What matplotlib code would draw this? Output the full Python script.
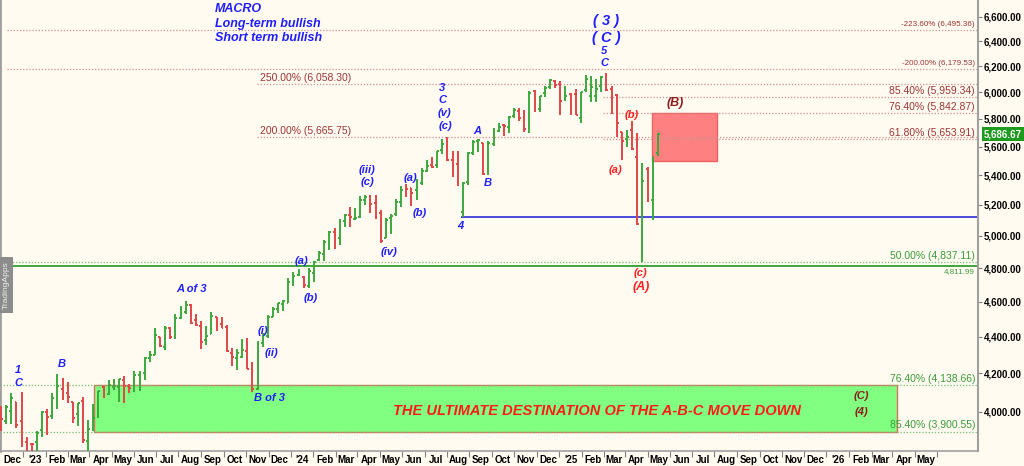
import datetime as dt
import matplotlib
matplotlib.use("Agg")
import matplotlib.pyplot as plt
import matplotlib.dates as mdates
import matplotlib.ticker as mticker
from matplotlib.collections import LineCollection
from matplotlib.patches import Rectangle
import pandas as pd

plt.rcParams['font.family'] = ['Liberation Sans', 'DejaVu Sans']

# ---------------- data: S&P 500 weekly OHLC (week ending Friday) ----------------
first_week_end = '2022-11-18'
opens = [3977, 3956, 4005, 4053, 3954, 3853, 3843,
         3853, 3910, 3999, 3979, 4070, 4120, 4097, 4052, 3992, 4055, 3855, 3917, 3986,
         4130, 4091, 4131, 4131, 4167, 4136, 4126, 4190, 4204, 4283, 4300, 4397, 4344,
         4450, 4404, 4505, 4543, 4580, 4492, 4458, 4380, 4416, 4510, 4472, 4453, 4311,
         4284, 4290, 4320, 4217, 4120, 4365, 4407, 4511, 4555, 4587, 4593, 4725, 4758,
         4745, 4690, 4772, 4849, 4888, 4957, 5027, 4989, 5094, 5133, 5111, 5123, 5234,
         5258, 5211, 5150, 4988, 5115, 5142, 5221, 5311, 5316, 5297, 5350, 5431, 5468,
         5471, 5572, 5615, 5505, 5476, 5151, 5353, 5557, 5637, 5623, 5442, 5615, 5712,
         5757, 5737, 5820, 5857, 5817, 5724, 6008, 5875, 5992, 6041, 6083, 6063, 5945,
         5982, 5983, 5806, 6015, 5969, 5970, 6046, 6121, 6026, 5981, 5705, 5655, 5718,
         5527, 4953, 5441, 5232, 5553]
highs = [4028, 4034, 4100, 4053, 4101, 3876, 3846,
         3906, 4003, 4015, 4095, 4195, 4176, 4156, 4052, 4048, 4079, 3962, 4039, 4110,
         4133, 4163, 4170, 4171, 4187, 4143, 4212, 4212, 4291, 4322, 4448, 4401, 4458,
         4456, 4527, 4578, 4607, 4584, 4528, 4491, 4458, 4541, 4514, 4511, 4466, 4339,
         4333, 4385, 4393, 4259, 4374, 4415, 4521, 4568, 4595, 4609, 4739, 4778, 4793,
         4755, 4802, 4842, 4907, 4975, 5030, 5048, 5111, 5140, 5189, 5179, 5261, 5264,
         5263, 5263, 5168, 5114, 5139, 5239, 5325, 5341, 5316, 5375, 5447, 5505, 5524,
         5570, 5656, 5670, 5566, 5566, 5357, 5563, 5643, 5651, 5623, 5636, 5734, 5767,
         5765, 5822, 5878, 5878, 5863, 6012, 6018, 5973, 6044, 6100, 6089, 6085, 6050,
         5991, 6022, 6000, 6128, 6120, 6101, 6127, 6147, 6044, 5987, 5705, 5715, 5787,
         5695, 5481, 5459, 5528, 5700]
lows = [3906, 3938, 3938, 3919, 3828, 3765, 3783,
        3794, 3877, 3885, 3966, 4015, 4060, 4048, 3943, 3928, 3847, 3808, 3906, 3970,
        4069, 4087, 4114, 4049, 4048, 4099, 4103, 4109, 4166, 4260, 4300, 4341, 4329,
        4385, 4389, 4503, 4528, 4474, 4458, 4335, 4357, 4416, 4430, 4448, 4316, 4238,
        4216, 4284, 4223, 4104, 4115, 4341, 4393, 4511, 4537, 4546, 4593, 4695, 4751,
        4682, 4682, 4714, 4845, 4842, 4914, 4920, 4946, 5058, 5057, 5104, 5117, 5203,
        5146, 5107, 4954, 4986, 5012, 5127, 5186, 5256, 5191, 5234, 5331, 5420, 5447,
        5448, 5546, 5497, 5391, 5325, 5120, 5334, 5540, 5561, 5402, 5402, 5604, 5703,
        5675, 5696, 5807, 5787, 5703, 5696, 5853, 5854, 5963, 6024, 6032, 5832, 5932,
        5829, 5826, 5773, 6004, 5923, 5924, 6004, 6008, 5837, 5667, 5505, 5597, 5572,
        5069, 4835, 5220, 5101, 5534]
closes = [3965, 4026, 4072, 3934, 3852, 3845, 3840,
          3895, 3999, 3973, 4071, 4136, 4090, 4079, 3970, 4045, 3862, 3917, 3971, 4109,
          4105, 4138, 4133, 4169, 4136, 4124, 4192, 4205, 4282, 4299, 4410, 4348, 4450,
          4399, 4505, 4536, 4582, 4478, 4464, 4370, 4406, 4516, 4457, 4450, 4320, 4288,
          4308, 4327, 4224, 4117, 4358, 4415, 4514, 4559, 4595, 4604, 4719, 4755, 4770,
          4697, 4784, 4840, 4891, 4959, 5027, 5006, 5089, 5137, 5124, 5117, 5234, 5254,
          5204, 5123, 4967, 5100, 5128, 5223, 5303, 5305, 5278, 5347, 5432, 5465, 5460,
          5567, 5615, 5505, 5459, 5347, 5344, 5554, 5635, 5648, 5408, 5626, 5703, 5738,
          5751, 5815, 5865, 5808, 5729, 5996, 5871, 5969, 6032, 6090, 6051, 5931, 5971,
          5942, 5827, 5997, 6101, 6041, 6026, 6115, 6013, 5955, 5770, 5639, 5668, 5581,
          5074, 5363, 5283, 5525, 5687]
last_price = 5686.67

# Fibonacci / reference levels
fib_levels = [6495.36, 6179.53, 6058.30, 5959.34, 5842.87, 5665.75, 5653.91,
              4837.11, 4811.99, 4138.66, 3900.55]
fib_labels = ['-223.60% (6,495.36)', '-200.00% (6,179.53)', '250.00% (6,058.30)',
              '85.40% (5,959.34)', '76.40% (5,842.87)', '200.00% (5,665.75)',
              '61.80% (5,653.91)', '50.00% (4,837.11)', '4,811.99',
              '76.40% (4,138.66)', '85.40% (3,900.55)']
fib_start = ['2022-11-24', '2022-11-24', '2023-10-31', '2025-02-14', '2025-02-14',
             '2023-10-31', '2025-02-14', '2022-11-14', '2022-11-14', '2022-11-14',
             '2022-11-14']

support_level = 5119.26
support_start = '2024-08-05'

green_zone = ('2023-03-23', '2026-03-23', 3900.55, 4138.66)
red_zone = ('2025-04-22', '2025-07-20', 5500.0, 5842.87)

y_ticks = [4000, 4200, 4400, 4600, 4800, 5000, 5200, 5400, 5600, 5800,
           6000, 6200, 6400, 6600]

# ---------------- figure ----------------
BG = '#FFFBF0'
W, H = 1024, 466
AX_W, AX_H = 978, 451
fig = plt.figure(figsize=(W / 100, H / 100), dpi=100)
fig.patch.set_facecolor(BG)
ax = fig.add_axes([0, (H - AX_H) / H, AX_W / W, AX_H / H])
ax.set_facecolor(BG)

base = mdates.date2num(dt.datetime(2022, 12, 1))
px_per_day = 0.733
x0_px = 12
ax.set_xlim(base - x0_px / px_per_day, base + (AX_W - x0_px) / px_per_day)
ax.set_yscale('log')
ax.set_ylim(3807, 6743)

def fx(px):
    return px / AX_W

def fy(py):
    return 1 - py / AX_H

# ---------------- zones ----------------
g0, g1 = mdates.datestr2num(green_zone[0]), mdates.datestr2num(green_zone[1])
ax.add_patch(Rectangle((g0, green_zone[2]), g1 - g0, green_zone[3] - green_zone[2],
                       facecolor='#80FF80', edgecolor='#E07060', lw=1.0, zorder=1))
r0, r1 = mdates.datestr2num(red_zone[0]), mdates.datestr2num(red_zone[1])
ax.add_patch(Rectangle((r0, red_zone[2]), r1 - r0, red_zone[3] - red_zone[2],
                       facecolor='#FF8080', edgecolor='#F06060', lw=1.0, zorder=1))

# ---------------- levels ----------------
xmax = ax.get_xlim()[1]
red_dot = '#D09090'
grn_dot = '#70C070'
for lvl, lab, st in zip(fib_levels, fib_labels, fib_start):
    xs = mdates.datestr2num(st)
    is_green = lvl < 5000
    if lab == '4,811.99':
        ax.hlines(lvl, xs, xmax, color='#2E9E2E', lw=1.3, zorder=2)
    else:
        ax.hlines(lvl, xs, xmax, color=grn_dot if is_green else red_dot,
                  lw=0.9, linestyles=(0, (1, 1.5)), zorder=2)

ax.hlines(support_level, mdates.datestr2num(support_start), xmax,
          color='#2B2BD8', lw=1.2, zorder=2)

fib_red = '#9E3434'
fib_grn = '#3A9A3A'
for lvl, lab, st in zip(fib_levels, fib_labels, fib_start):
    col = fib_grn if lvl < 5000 else fib_red
    if lab.startswith('-'):
        ax.annotate(lab, xy=(fx(975), lvl), xycoords=('axes fraction', 'data'),
                    xytext=(0, 1), textcoords='offset points', ha='right', va='bottom',
                    fontsize=5.8, color=col, zorder=5)
    elif lab == '4,811.99':
        ax.annotate(lab, xy=(fx(975), lvl), xycoords=('axes fraction', 'data'),
                    xytext=(0, -1), textcoords='offset points', ha='right', va='top',
                    fontsize=5.8, color=col, zorder=5)
    elif lab.startswith('250') or lab.startswith('200'):
        ax.annotate(lab, xy=(fx(260), lvl), xycoords=('axes fraction', 'data'),
                    xytext=(0, 1), textcoords='offset points', ha='left', va='bottom',
                    fontsize=7.5, color=col, zorder=5)
    else:
        ax.annotate(lab, xy=(fx(975), lvl), xycoords=('axes fraction', 'data'),
                    xytext=(0, 1), textcoords='offset points', ha='right', va='bottom',
                    fontsize=7.5, color=col, zorder=5)

# ---------------- price bars ----------------
week_dates = pd.date_range(first_week_end, periods=len(closes), freq='W-FRI') - pd.Timedelta(days=2)
xd = mdates.date2num(week_dates.to_pydatetime())
segs, cols = [], []
up_col, dn_col = '#3CA83C', '#E04848'
for x, o, h, l, c in zip(xd, opens, highs, lows, closes):
    col = up_col if c >= o else dn_col
    segs += [[(x, l), (x, h)], [(x - 2.5, o), (x, o)], [(x, c), (x + 2.5, c)]]
    cols += [col, col, col]
ax.add_collection(LineCollection(segs, colors=cols, linewidths=1.4, zorder=3))

# ---------------- texts ----------------
blue = '#1E1EFF'
red = '#FF2020'
dred = '#8B1C1C'
tfont = dict(fontweight='bold', fontstyle='italic', ha='center', va='center',
             transform=ax.transAxes, zorder=6)

for t, y in [('MACRO', 9.5), ('Long-term bullish', 24), ('Short term bullish', 38)]:
    ax.text(fx(215), fy(y), t, color=blue, fontsize=9,
            **{**tfont, 'ha': 'left'})

wave_blue = [('1', 18, 370), ('C', 18, 383), ('B', 62, 364), ('A of 3', 192, 289),
             ('B of 3', 269, 398), ('(i)', 263, 331), ('(ii)', 271, 353),
             ('(a)', 301, 261), ('(b)', 311, 298), ('(iii)', 367, 170), ('(c)', 367, 182),
             ('(iv)', 389, 252), ('(a)', 410, 178), ('(b)', 420, 213), ('3', 442, 88),
             ('C', 442, 100), ('(v)', 444, 113), ('(c)', 445, 126), ('4', 460, 226),
             ('A', 477, 131), ('B', 488, 183), ('5', 604, 51), ('C', 604, 63)]
for t, x, y in wave_blue:
    ax.text(fx(x), fy(y), t, color=blue, fontsize=8, **tfont)
for t, x, y in [('( 3 )', 606, 21), ('( C )', 606, 38)]:
    ax.text(fx(x), fy(y), t, color=blue, fontsize=10.5, **tfont)
for t, x, y, s in [('(b)', 632, 115, 8), ('(a)', 615, 170, 8), ('(c)', 640, 273, 8),
                   ('(A)', 641, 287, 9)]:
    ax.text(fx(x), fy(y), t, color=red, fontsize=s, **tfont)
for t, x, y, s in [('(B)', 675, 103, 9), ('(C)', 861, 396, 8), ('(4)', 861, 412, 8)]:
    ax.text(fx(x), fy(y), t, color=dred, fontsize=s, **tfont)

ax.text(fx(597), fy(411), 'THE ULTIMATE DESTINATION OF THE A-B-C MOVE DOWN',
        color='#FF1A1A', fontsize=10.5, **tfont)

# watermark
ax.text(fx(6), fy(285), 'TradingApps', rotation=90, color='#F0F0F0', fontsize=6,
        ha='center', va='center', transform=ax.transAxes, zorder=7,
        bbox=dict(boxstyle='square,pad=0.45', facecolor='#8C8C8C', edgecolor='none'))

# last price tag
ax.annotate(f'{last_price:,.2f}', xy=(1.0, last_price), xycoords=('axes fraction', 'data'),
            xytext=(4, 0), textcoords='offset points', ha='left', va='center',
            fontsize=7, fontweight='bold', color='white', annotation_clip=False, zorder=8,
            bbox=dict(boxstyle='square,pad=0.2', facecolor='#1E9A1E', edgecolor='none'))

# ---------------- axes styling ----------------
ax.spines['top'].set_visible(False)
for s in ['left', 'right', 'bottom']:
    ax.spines[s].set_color('#A0A0A0')
ax.spines['left'].set_linewidth(2)
ax.spines['right'].set_linewidth(1.5)
ax.spines['bottom'].set_linewidth(1.2)

ax.yaxis.tick_right()
ax.yaxis.set_major_locator(mticker.FixedLocator(y_ticks))
ax.yaxis.set_minor_locator(mticker.NullLocator())
ax.yaxis.set_major_formatter(mticker.FuncFormatter(lambda v, p: f'{v:,.2f}'))
ax.tick_params(axis='y', which='major', direction='out', length=3, width=0.8,
               color='#808080', labelsize=7, pad=1)
for lab in ax.get_yticklabels():
    lab.set_fontweight('bold')

month_starts = pd.date_range('2022-12-01', '2026-05-01', freq='MS')
mid_months = pd.date_range('2022-11-16', '2026-05-16', freq='MS') + pd.Timedelta(days=15)
ax.xaxis.set_major_locator(mticker.FixedLocator(mdates.date2num(month_starts.to_pydatetime())))
ax.xaxis.set_minor_locator(mticker.FixedLocator(mdates.date2num(mid_months.to_pydatetime())))

def xfmt(v, p):
    d = mdates.num2date(v)
    return d.strftime("'%y") if d.month == 1 else d.strftime('%b')

ax.xaxis.set_major_formatter(mticker.FuncFormatter(xfmt))
ax.tick_params(axis='x', which='major', length=0, labelsize=7, pad=3)
ax.tick_params(axis='x', which='minor', length=4, width=0.8, color='#808080')
for lab in ax.get_xticklabels():
    lab.set_fontweight('bold')

fig.savefig('out.png', dpi=100, facecolor=BG)
